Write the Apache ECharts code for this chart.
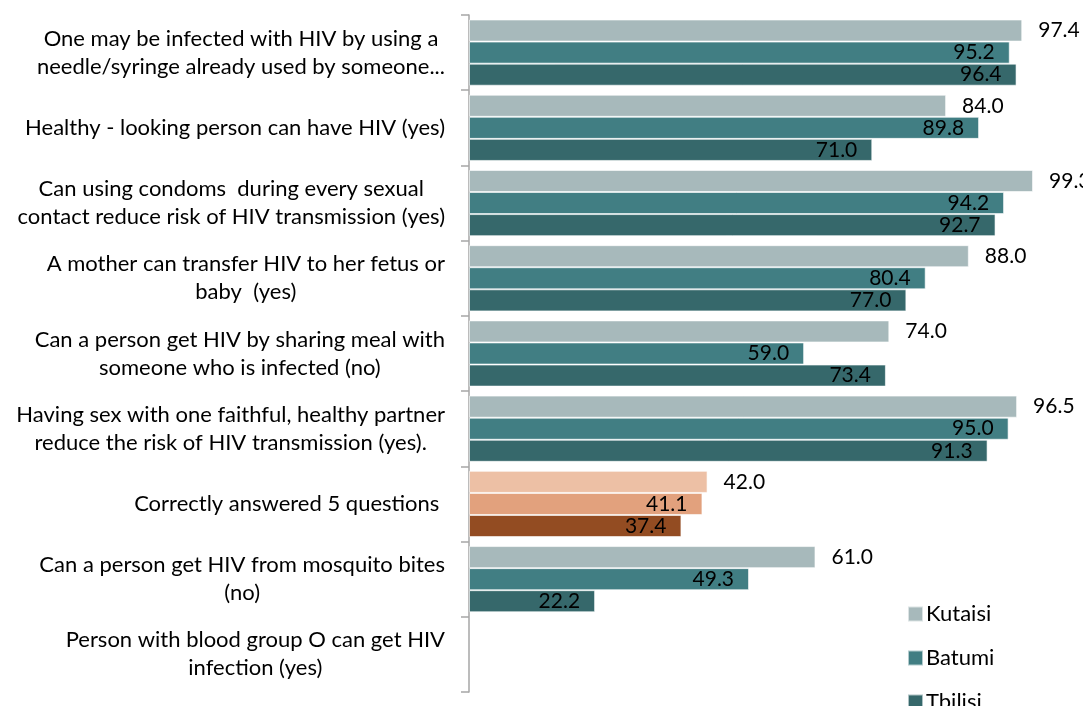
<!DOCTYPE html>
<html>
<head>
<meta charset="utf-8">
<script src="https://cdn.jsdelivr.net/npm/echarts@6/dist/echarts.min.js"></script>
<style>
  html, body { margin: 0; padding: 0; background: #fff; }
  #main { width: 1083px; height: 706px; }
</style>
</head>
<body>
<div id="main"></div>
<script>
var categories = [
    'One may be infected with HIV by using a\nneedle/syringe already used by someone...',
    'Healthy - looking person can have HIV (yes)',
    'Can using condoms  during every sexual\ncontact reduce risk of HIV transmission (yes)',
    'A mother can transfer HIV to her fetus or\nbaby  (yes)',
    'Can a person get HIV by sharing meal with\nsomeone who is infected (no)',
    'Having sex with one faithful, healthy partner\nreduce the risk of HIV transmission (yes).',
    'Correctly answered 5 questions ',
    'Can a person get HIV from mosquito bites\n(no)',
    'Person with blood group O can get HIV\ninfection (yes)'
];
var kutaisi = [97.4, 84.0, 99.3, 88.0, 74.0, 96.5, 42.0, 61.0, null];
var batumi = [95.2, 89.8, 94.2, 80.4, 59.0, 95.0, 41.1, 49.3, null];
var tbilisi = [96.4, 71.0, 92.7, 77.0, 73.4, 91.3, 37.4, 22.2, null];

var seriesNames = ['Kutaisi', 'Batumi', 'Tbilisi'];
var colors = ['#a7b9bb', '#417e83', '#36686b'];
var highlightColors = ['#edc0a5', '#e2a17d', '#934c22'];
var highlightIndex = 6;

var FONT = 'Lato';
var myChart = echarts.init(document.getElementById('main'));

function makeData(values, s) {
    return values.map(function (v, i) {
        if (i === highlightIndex) {
            return { value: v, itemStyle: { color: highlightColors[s] } };
        }
        return v;
    });
}

function makeSeries(values, s) {
    return {
        name: seriesNames[s],
        type: 'bar',
        barGap: '0%',
        barCategoryGap: '12%',
        itemStyle: {
            color: colors[s],
            borderColor: 'rgba(255,255,255,0.6)',
            borderWidth: 1
        },
        label: {
            show: true,
            position: s === 0 ? 'right' : 'insideRight',
            distance: s === 0 ? 16 : 15,
            color: '#000',
            fontFamily: FONT,
            fontSize: 21,
            formatter: function (p) {
                return p.value == null ? '' : p.value.toFixed(1);
            }
        },
        data: makeData(values, s)
    };
}

// one legend per city so the last row may run off the bottom like the original
var legends = seriesNames.map(function (name, i) {
    return {
        orient: 'vertical',
        left: 902,
        top: 598 + i * 44,
        itemWidth: 15,
        itemHeight: 15,
        icon: 'rect',
        textStyle: { fontFamily: FONT, fontSize: 22, color: '#000', padding: [0, 0, 0, -2] },
        data: [name]
    };
});

option = {
    animation: false,
    color: colors,
    textStyle: { fontFamily: FONT },
    grid: {
        left: 469,
        right: 46,
        top: 15,
        bottom: 14,
        containLabel: false
    },
    legend: legends,
    xAxis: {
        type: 'value',
        min: 0,
        max: 100,
        show: false,
        splitLine: { show: false }
    },
    yAxis: {
        type: 'category',
        inverse: true,
        data: categories,
        axisLine: { show: true, lineStyle: { color: '#a6a6a6', width: 1.5 } },
        axisTick: { show: true, length: 8, lineStyle: { color: '#a6a6a6', width: 1.5 } },
        axisLabel: {
            margin: 24,
            color: '#000',
            fontFamily: FONT,
            fontSize: 22,
            lineHeight: 28,
            formatter: function (v) {
                return v.split('\n').map(function (line) {
                    return '{c|' + line + '}';
                }).join('\n');
            },
            rich: {
                c: {
                    align: 'center',
                    fontFamily: FONT,
                    fontSize: 22,
                    lineHeight: 28,
                    color: '#000'
                }
            }
        }
    },
    series: [
        makeSeries(kutaisi, 0),
        makeSeries(batumi, 1),
        makeSeries(tbilisi, 2)
    ]
};

myChart.setOption(option);
</script>
</body>
</html>
